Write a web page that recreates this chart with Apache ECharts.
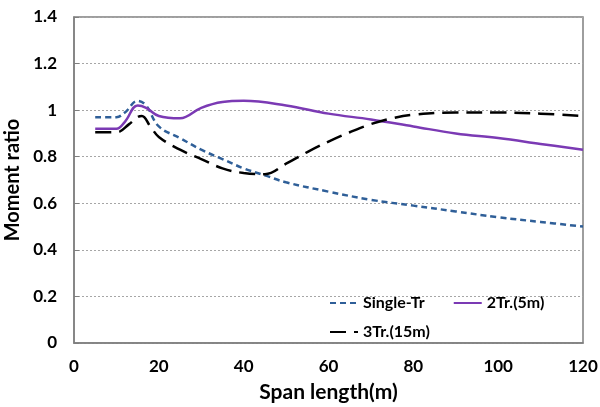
<!DOCTYPE html>
<html><head><meta charset="utf-8">
<script src="https://cdn.jsdelivr.net/npm/echarts@6/dist/echarts.min.js"></script>
<style>html,body{margin:0;padding:0;background:#fff}#c{width:600px;height:407px}</style>
</head><body><div id="c"></div>
<script>
const seriesNames = ['Single-Tr', '2Tr.(5m)', '3Tr.(15m)'];
const singleX = [5, 10, 12, 15, 17, 20, 25, 30, 35, 40, 45, 50, 60, 70, 80, 90, 100, 110, 120];
const singleY = [0.97, 0.97, 0.99, 1.04, 1.02, 0.93, 0.88, 0.83, 0.79, 0.75, 0.72, 0.69, 0.65, 0.615, 0.59, 0.565, 0.54, 0.52, 0.50];
const twoX = [5, 10, 12, 15, 17, 20, 25, 30, 35, 40, 50, 60, 70, 80, 90, 100, 110, 120];
const twoY = [0.92, 0.92, 0.95, 1.02, 1.01, 0.975, 0.965, 1.01, 1.035, 1.04, 1.02, 0.985, 0.96, 0.93, 0.90, 0.88, 0.855, 0.83];
const threeX = [5, 10, 13, 15, 16, 18, 20, 25, 30, 35, 40, 45, 50, 55, 60, 65, 70, 75, 80, 90, 100, 110, 120];
const threeY = [0.905, 0.905, 0.94, 0.97, 0.975, 0.93, 0.885, 0.83, 0.79, 0.75, 0.73, 0.725, 0.77, 0.82, 0.865, 0.905, 0.94, 0.965, 0.98, 0.99, 0.99, 0.985, 0.975];
const xTicks = [0, 20, 40, 60, 80, 100, 120];
const yTicks = [0, 0.2, 0.4, 0.6, 0.8, 1, 1.2, 1.4];

const zip = (xs, ys) => xs.map((x, i) => [x, ys[i]]);
const font = 'Lato, "Open Sans", sans-serif';
const chart = echarts.init(document.getElementById('c'));
const legendText = { fontFamily: font, fontWeight: 'bold', fontSize: 16, color: '#000' };
const legendBase = { itemWidth: 28, itemHeight: 12, textStyle: legendText, padding: 0, itemStyle: { opacity: 0 } };
chart.setOption({
  animation: false,
  grid: { left: 74, right: 17, top: 17, bottom: 64, show: true, borderColor: '#7f7f7f', borderWidth: 1.5,
    containLabel: false, outerBoundsMode: 'none' },
  xAxis: {
    type: 'value', min: 0, max: 120, interval: 20,
    name: 'Span length(m)', nameLocation: 'middle', nameGap: 39,
    nameTextStyle: { fontFamily: font, fontWeight: 'bold', fontSize: 21, color: '#000' },
    axisLine: { show: true, lineStyle: { color: '#7f7f7f', width: 1.5 } },
    axisTick: { show: false },
    splitLine: { show: false },
    axisLabel: { fontFamily: font, fontWeight: 'bold', fontSize: 17, color: '#000', margin: 15,
      formatter: v => xTicks.includes(v) ? String(v) : '' }
  },
  yAxis: {
    type: 'value', min: 0, max: 1.4, interval: 0.2,
    name: 'Moment ratio', nameLocation: 'middle', nameGap: 48, nameRotate: 90,
    nameTextStyle: { fontFamily: font, fontWeight: 'bold', fontSize: 20, color: '#000' },
    axisLine: { show: true, lineStyle: { color: '#7f7f7f', width: 1.5 } },
    axisTick: { show: true, inside: true, length: 5, lineStyle: { color: '#7f7f7f' } },
    splitLine: { show: true, lineStyle: { color: '#a6a6a6', type: [2, 2], width: 1 } },
    axisLabel: { fontFamily: font, fontWeight: 'bold', fontSize: 17, color: '#000', margin: 17,
      formatter: v => { const t = yTicks.find(k => Math.abs(k - v) < 1e-6); return t === undefined ? '' : String(t); } }
  },
  legend: [
    Object.assign({ data: [seriesNames[0], seriesNames[1]], left: 329, top: 295, itemGap: 28 }, legendBase),
    Object.assign({ data: [seriesNames[2]], left: 329, top: 324 }, legendBase)
  ],
  series: [
    { name: seriesNames[0], type: 'line', data: zip(singleX, singleY), smooth: 0.4, symbol: 'none',
      lineStyle: { color: '#2F5F98', width: 2.5, type: [6, 4] }, itemStyle: { color: '#2F5F98' } },
    { name: seriesNames[1], type: 'line', data: zip(twoX, twoY), smooth: 0.4, symbol: 'none',
      lineStyle: { color: '#7B3AB4', width: 2.5 }, itemStyle: { color: '#7B3AB4' } },
    { name: seriesNames[2], type: 'line', data: zip(threeX, threeY), smooth: 0.4, symbol: 'none',
      lineStyle: { color: '#000', width: 2.5, type: [16, 8] }, itemStyle: { color: '#000' } }
  ]
});
</script></body></html>
